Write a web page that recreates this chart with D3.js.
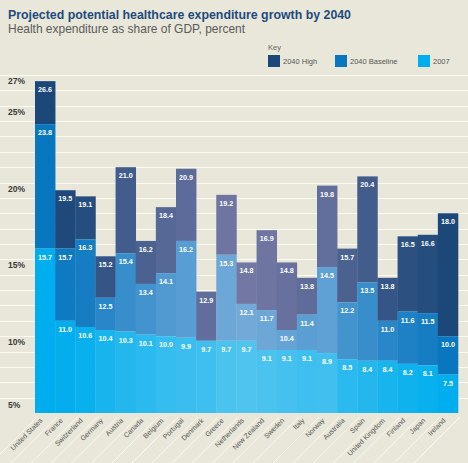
<!DOCTYPE html>
<html>
<head>
<meta charset="utf-8">
<script src="https://cdn.jsdelivr.net/npm/d3@7"></script>
<style>
  html, body { margin: 0; padding: 0; background: #e9e7d9; }
  svg { display: block; font-family: "Liberation Sans", Arial, sans-serif; }
</style>
</head>
<body>
<svg id="chart" width="468" height="463"></svg>
<script>
// ---- data ----
const countries = ["United States","France","Switzerland","Germany","Austria","Canada","Belgium","Portugal","Denmark","Greece","Netherlands","New Zealand","Sweden","Italy","Norway","Australia","Spain","United Kingdom","Finland","Japan","Ireland"];
const high2040 = [26.6,19.5,19.1,15.2,21.0,16.2,18.4,20.9,12.9,19.2,14.8,16.9,14.8,13.8,19.8,15.7,20.4,13.8,16.5,16.6,18.0];
const baseline2040 = [23.8,15.7,16.3,12.5,15.4,13.4,14.1,16.2,null,15.3,12.1,11.7,10.4,11.4,14.5,12.2,13.5,11.0,11.6,11.5,10.0];
const values2007 = [15.7,11.0,10.6,10.4,10.3,10.1,10.0,9.9,9.7,9.7,9.7,9.1,9.1,9.1,8.9,8.5,8.4,8.4,8.2,8.1,7.5];
const yTicks = [27,25,20,15,10,5];
const seriesNames = ["2040 High","2040 Baseline","2007"];

// ---- style ----
const shade = [0,0.05,0.12,0.3,0.45,0.55,0.68,0.75,0.8,0.95,1,0.95,0.88,0.78,0.82,0.55,0.45,0.3,0.2,0.12,0];
const colHigh = d3.interpolateRgb("#1b4779","#7277a3");
const colBase = d3.interpolateRgb("#0977c0","#72a9d9");
const col2007 = d3.interpolateRgb("#00adee","#4fc4ef");

const svg = d3.select("#chart");
const W = 468, H = 463;

const x = d3.scaleBand().domain(countries).range([35, 458]).padding(0);
const y = d3.scaleLinear().domain([5, 27]).range([413, 75]);

// gridlines
const gridVals = d3.range(6, 28);
svg.append("g").selectAll("line").data(gridVals).join("line")
  .attr("x1", 0).attr("x2", W)
  .attr("y1", d => Math.round(y(d)) + 0.5).attr("y2", d => Math.round(y(d)) + 0.5)
  .attr("stroke", "#fbfaf3").attr("stroke-width", 1.2);

// y tick labels
svg.append("g").selectAll("text").data(yTicks).join("text")
  .attr("x", 8)
  .attr("y", d => y(d) + (d === 5 ? -5 : 9))
  .attr("font-size", 8.5).attr("font-weight", "bold").attr("fill", "#3a3a3a")
  .text(d => d + "%");

// bars
const rows = countries.map((c, i) => ({
  c, i, h: high2040[i], b: baseline2040[i], v: values2007[i]
}));
const g = svg.append("g");
rows.forEach(r => {
  const x0 = x(r.c), w = x.bandwidth();
  const baseTop = r.b == null ? r.v : r.b;
  g.append("rect").attr("x", x0).attr("width", w + 0.3)
    .attr("y", y(r.h)).attr("height", y(baseTop) - y(r.h))
    .attr("fill", colHigh(shade[r.i]));
  if (r.b != null) {
    g.append("rect").attr("x", x0).attr("width", w + 0.3)
      .attr("y", y(r.b)).attr("height", y(r.v) - y(r.b))
      .attr("fill", colBase(shade[r.i]));
  }
  g.append("rect").attr("x", x0).attr("width", w + 0.3)
    .attr("y", y(r.v)).attr("height", y(5) - y(r.v))
    .attr("fill", col2007(shade[r.i]));
  [r.h, r.b, r.v].forEach(val => {
    if (val == null) return;
    g.append("text")
      .attr("x", x0 + w / 2).attr("y", y(val) + 11)
      .attr("text-anchor", "middle")
      .attr("font-size", 7.2).attr("font-weight", "bold").attr("fill", "#ffffff")
      .text(val.toFixed(1));
  });
});

// diagonal separators below axis
const edges = countries.map(c => x(c)).concat([x.range()[1]]);
svg.append("g").selectAll("line").data(edges).join("line")
  .attr("x1", d => d + 2).attr("y1", 417)
  .attr("x2", d => d - 46).attr("y2", 465)
  .attr("stroke", "#fbfaf3").attr("stroke-width", 1);

// x labels
svg.append("g").selectAll("text").data(countries).join("text")
  .attr("transform", c => `translate(${x(c) + x.bandwidth() / 2 - 2},${421}) rotate(-45)`)
  .attr("text-anchor", "end")
  .attr("font-size", 7).attr("fill", "#555")
  .text(c => c);

// title
svg.append("text").attr("x", 8).attr("y", 19)
  .attr("font-size", 13).attr("font-weight", "bold").attr("fill", "#1f4a7d")
  .attr("textLength", 343).attr("lengthAdjust", "spacingAndGlyphs")
  .text("Projected potential healthcare expenditure growth by 2040");
svg.append("text").attr("x", 8).attr("y", 33)
  .attr("font-size", 12.2).attr("fill", "#5a5a5a")
  .attr("textLength", 237).attr("lengthAdjust", "spacingAndGlyphs")
  .text("Health expenditure as share of GDP, percent");

// legend
svg.append("text").attr("x", 268).attr("y", 50)
  .attr("font-size", 7.5).attr("fill", "#666").text("Key");
const legX = [268, 335, 418];
const legCol = [colHigh(0), colBase(0), col2007(0)];
seriesNames.forEach((n, i) => {
  svg.append("rect").attr("x", legX[i]).attr("y", 55).attr("width", 12).attr("height", 12)
    .attr("fill", legCol[i]);
  svg.append("text").attr("x", legX[i] + 15).attr("y", 64)
    .attr("font-size", 7.5).attr("fill", "#555").text(n);
});
</script>
</body>
</html>
